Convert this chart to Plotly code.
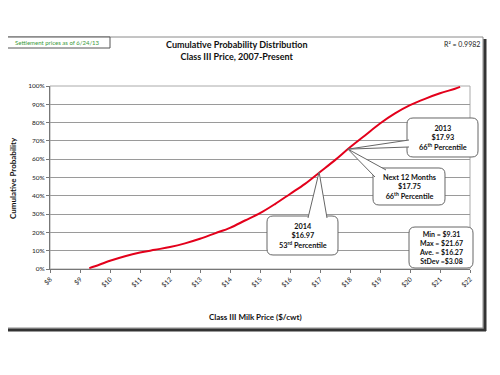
import plotly.graph_objects as go

# ---- data ----
prices = [9.31, 9.5, 10, 10.5, 11, 11.5, 12, 12.5, 13, 13.5, 14, 14.5, 15, 15.5, 16, 16.5,
          17, 17.5, 18, 18.5, 19, 19.5, 20, 20.5, 21, 21.5, 21.67]
cum_pct = [0.5, 1.5, 4.5, 7, 9, 10.5, 12, 14, 16.5, 19.5, 22.5, 26.5, 30.5, 35.5, 41, 46.5,
           53, 59.5, 66.5, 73, 79.5, 85, 89.5, 93, 96, 98.5, 99.5]
x_ticks = list(range(8, 23))
x_tick_labels = ["$%d" % v for v in x_ticks]
y_ticks = list(range(0, 101, 10))
y_tick_labels = ["%d%%" % v for v in y_ticks]

W, H = 500, 375
OFF = 8  # page body margin offset
# desired on-screen plot area: x 50..470, y 86..269
L, T = 50 - OFF, 86 - OFF
PW, PH = 420, 183
R = W - L - PW
B = H - T - PH
XR = (8, 22)
YR = (0, 100)

def px(x):  # screen pixel -> paper x
    return (x - 50) / PW
def py(y):  # screen pixel -> paper y
    return (269 - y) / PH
def dx(v):  # data -> paper x
    return (v - XR[0]) / (XR[1] - XR[0])
def dy(v):
    return (v - YR[0]) / (YR[1] - YR[0])

fig = go.Figure()
fig.add_trace(go.Scatter(x=prices, y=cum_pct, mode="lines",
                         line=dict(color="#e3001b", width=2, shape="spline", smoothing=1.0),
                         hoverinfo="skip", showlegend=False))

shapes = []
# plot-area border
shapes.append(dict(type="rect", xref="paper", yref="paper", x0=0, x1=1, y0=0, y1=1,
                   line=dict(color="#aaa", width=1), layer="below"))
# outer frame
shapes.append(dict(type="rect", xref="paper", yref="paper", x0=px(3), x1=px(483), y0=py(328), y1=py(37),
                   line=dict(color="#8a8a8a", width=1), fillcolor="rgba(0,0,0,0)", layer="below"))
shapes.append(dict(type="line", xref="paper", yref="paper", x0=px(485), x1=px(485), y0=py(331), y1=py(39),
                   line=dict(color="#333", width=3)))
shapes.append(dict(type="line", xref="paper", yref="paper", x0=px(5), x1=px(486), y0=py(330), y1=py(330),
                   line=dict(color="#333", width=3)))
# settlement box
shapes.append(dict(type="rect", xref="paper", yref="paper", x0=px(5), x1=px(110), y0=py(48), y1=py(37),
                   line=dict(color="#555", width=1), fillcolor="white"))

def rrect(x0, y0, x1, y1, r=6):
    pts = [
        "M%f,%f" % (px(x0 + r), py(y0)),
        "L%f,%f" % (px(x1 - r), py(y0)),
        "Q%f,%f %f,%f" % (px(x1), py(y0), px(x1), py(y0 + r)),
        "L%f,%f" % (px(x1), py(y1 - r)),
        "Q%f,%f %f,%f" % (px(x1), py(y1), px(x1 - r), py(y1)),
        "L%f,%f" % (px(x0 + r), py(y1)),
        "Q%f,%f %f,%f" % (px(x0), py(y1), px(x0), py(y1 - r)),
        "L%f,%f" % (px(x0), py(y0 + r)),
        "Q%f,%f %f,%f" % (px(x0), py(y0), px(x0 + r), py(y0)),
        "Z",
    ]
    return dict(type="path", xref="paper", yref="paper", path=" ".join(pts),
                line=dict(color="#666", width=1), fillcolor="white")

def wedge(b1, tip_xy, b2):
    p = "M%f,%f L%f,%f L%f,%f" % (px(b1[0]), py(b1[1]), dx(tip_xy[0]), dy(tip_xy[1]), px(b2[0]), py(b2[1]))
    return dict(type="path", xref="paper", yref="paper", path=p,
                line=dict(color="#666", width=1), fillcolor="white")

# callouts
shapes.append(rrect(407, 118, 478, 157))
shapes.append(wedge((409, 140), (17.93, 65.5), (409, 147)))
shapes.append(rrect(373, 168, 445, 205))
shapes.append(wedge((375, 177), (17.93, 65.5), (386, 170)))
shapes.append(rrect(267, 216, 338, 255))
shapes.append(wedge((308, 218), (16.97, 53), (327, 218)))
shapes.append(rrect(409, 227, 473, 268))

ann = []
bf = dict(family="Lato, 'Open Sans', sans-serif", size=7.3, color="#111")
def txt(x, y, s, **kw):
    d = dict(xref="paper", yref="paper", x=px(x), y=py(y), text=s, showarrow=False,
             font=bf, xanchor="center", yanchor="middle", align="center")
    d.update(kw)
    ann.append(d)

txt(442.5, 137.5, "<b>2013<br>$17.93<br>66<sup>th</sup> Percentile</b>")
txt(409, 186.5, "<b>Next 12 Months<br>$17.75<br>66<sup>th</sup> Percentile</b>")
txt(302.5, 235.5, "<b>2014<br>$16.97<br>53<sup>rd</sup> Percentile</b>")
txt(441, 247.5, "<b>Min = $9.31<br>Max = $21.67<br>Ave. = $16.27<br>StDev =$3.08</b>",
    font=dict(family="Lato, 'Open Sans', sans-serif", size=7, color="#111"))
txt(57.5, 42.5, "Settlement prices as of 6/24/13",
    font=dict(family="Lato, sans-serif", size=6, color="#3a9a3a"))
txt(236, 50.5, "<b>Cumulative Probability Distribution<br>Class III Price, 2007-Present</b>",
    font=dict(family="Lato, 'Open Sans', sans-serif", size=9, color="#111"))
txt(482, 44, "R² = 0.9982", xanchor="right",
    font=dict(family="Lato, sans-serif", size=7, color="#222"))
txt(13, 178, "<b>Cumulative Probability</b>", textangle=-90,
    font=dict(family="Lato, 'Open Sans', sans-serif", size=8, color="#111"))
txt(255, 317, "<b>Class III Milk Price ($/cwt)</b>",
    font=dict(family="Lato, 'Open Sans', sans-serif", size=8, color="#111"))

tickfont = dict(family="Lato, 'Open Sans', sans-serif", size=6.5, color="#222")
fig.update_layout(
    width=W, height=H, autosize=False,
    margin=dict(l=L, r=R, t=T, b=B, pad=0, autoexpand=False),
    paper_bgcolor="white", plot_bgcolor="white",
    shapes=shapes, annotations=ann,
    xaxis=dict(range=list(XR), tickvals=x_ticks, ticktext=x_tick_labels, tickangle=-45,
               automargin=False,
               showgrid=False, zeroline=False, showline=True, linecolor="#777", linewidth=1,
               ticks="outside", ticklen=3, tickcolor="#777", tickfont=tickfont),
    yaxis=dict(range=list(YR), tickvals=y_ticks, ticktext=y_tick_labels, automargin=False,
               showgrid=True, gridcolor="#9a9a9a", gridwidth=1, zeroline=False,
               showline=True, linecolor="#777", linewidth=1, ticks="outside", ticklen=3,
               tickcolor="#777", tickfont=tickfont),
)

fig.write_html("out.html")
